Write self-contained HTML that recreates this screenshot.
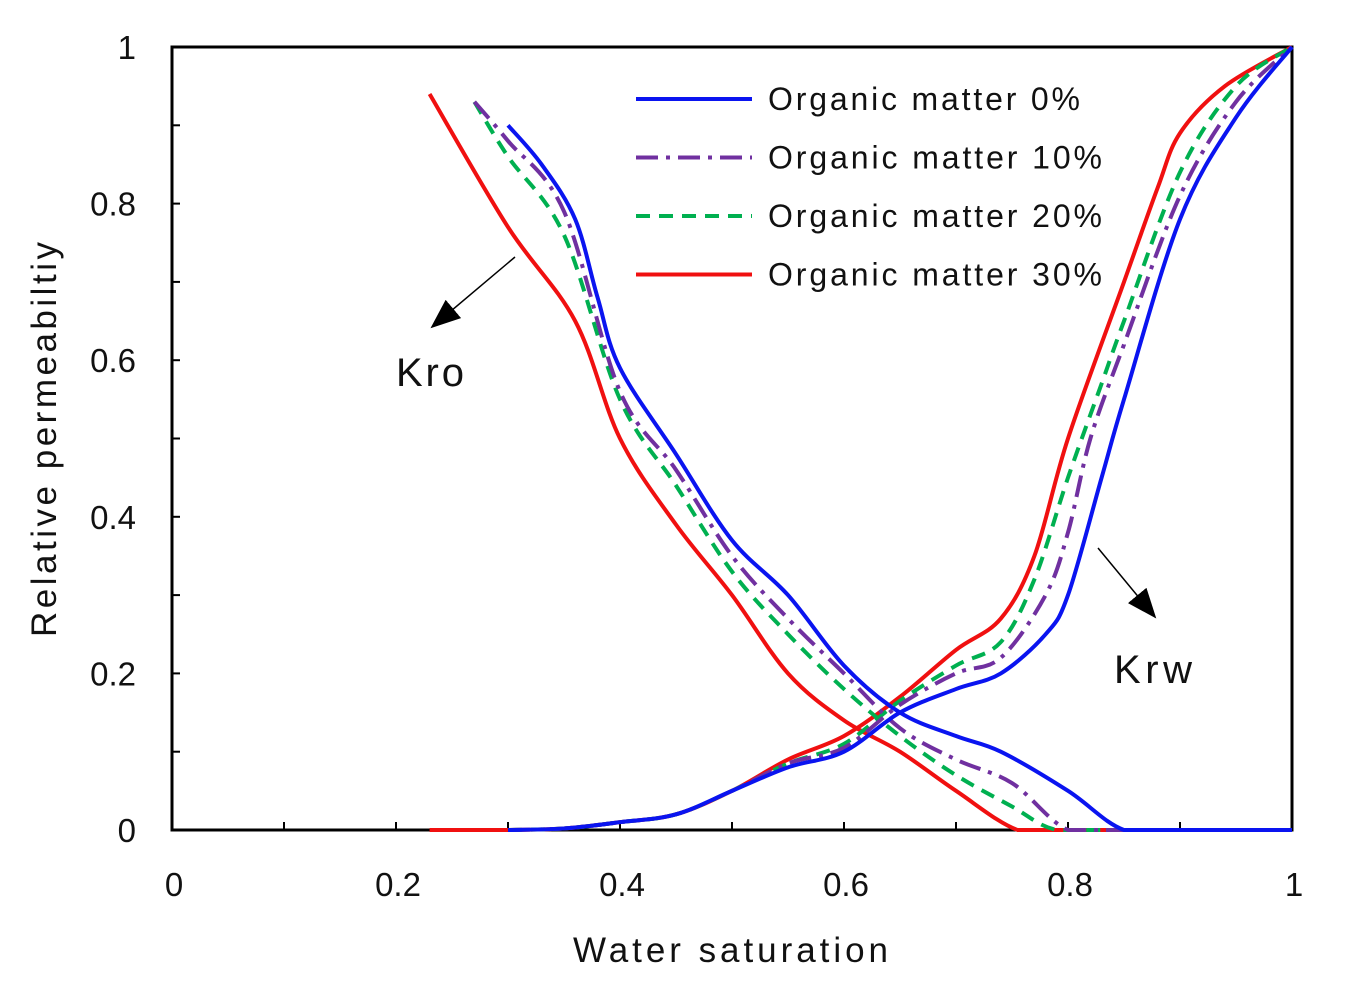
<!DOCTYPE html>
<html><head><meta charset="utf-8"><style>
body{margin:0;background:#fff}
svg text{font-family:"Liberation Sans",sans-serif;fill:#111}
</style></head><body>
<svg id="chart" width="1350" height="980"></svg>
<script>
const xTicks=[0,0.2,0.4,0.6,0.8,1];
const yTicks=[0,0.2,0.4,0.6,0.8,1];
const seriesNames=["Organic matter 0%","Organic matter 10%","Organic matter 20%","Organic matter 30%"];
const kroX0=[0.3,0.33,0.36,0.38,0.4,0.45,0.5,0.55,0.6,0.65,0.7,0.74,0.8,0.85,0.9,1];
const kroY0=[0.9,0.85,0.78,0.68,0.59,0.48,0.37,0.3,0.21,0.15,0.12,0.1,0.05,0,0,0];
const kroX1=[0.27,0.3,0.35,0.4,0.45,0.5,0.55,0.6,0.65,0.7,0.75,0.8,0.85,1];
const kroY1=[0.93,0.88,0.79,0.56,0.46,0.35,0.27,0.2,0.13,0.09,0.06,0,0,0];
const kroX2=[0.27,0.3,0.35,0.4,0.45,0.5,0.55,0.6,0.65,0.7,0.75,0.79,0.85,1];
const kroY2=[0.93,0.86,0.76,0.55,0.44,0.33,0.25,0.18,0.12,0.07,0.03,0,0,0];
const kroX3=[0.23,0.3,0.36,0.4,0.45,0.5,0.55,0.6,0.65,0.7,0.755,0.8,1];
const kroY3=[0.94,0.77,0.65,0.5,0.39,0.3,0.2,0.14,0.1,0.05,0,0,1e-9];
const krwX0=[0.3,0.35,0.4,0.45,0.5,0.55,0.6,0.65,0.7,0.74,0.78,0.8,0.83,0.85,0.9,0.95,1];
const krwY0=[0,0.002,0.01,0.02,0.05,0.08,0.1,0.15,0.18,0.2,0.25,0.3,0.45,0.55,0.78,0.91,1];
const krwX1=[0.3,0.35,0.4,0.45,0.5,0.55,0.6,0.65,0.7,0.74,0.78,0.8,0.82,0.85,0.9,0.95,1];
const krwY1=[0,0.002,0.01,0.02,0.05,0.085,0.105,0.16,0.2,0.22,0.3,0.38,0.5,0.62,0.81,0.93,1];
const krwX2=[0.3,0.35,0.4,0.45,0.5,0.55,0.6,0.65,0.7,0.74,0.77,0.8,0.83,0.85,0.9,0.95,1];
const krwY2=[0,0.002,0.01,0.02,0.05,0.085,0.11,0.165,0.21,0.24,0.32,0.45,0.57,0.65,0.84,0.95,1];
const krwX3=[0.23,0.3,0.35,0.4,0.45,0.5,0.55,0.6,0.65,0.7,0.74,0.77,0.8,0.85,0.88,0.9,0.94,1];
const krwY3=[0,0,0.002,0.01,0.02,0.05,0.09,0.12,0.17,0.23,0.27,0.35,0.5,0.7,0.82,0.89,0.95,1];

const L=172,R=1292,T=47,B=830;
const sx=v=>L+v*(R-L), sy=v=>B-v*(B-T);
const svg=document.getElementById('chart');
const NS="http://www.w3.org/2000/svg";
function mk(tag,attrs,parent){const e=document.createElementNS(NS,tag);for(const k in attrs)e.setAttribute(k,attrs[k]);(parent||svg).appendChild(e);return e;}
function pathD(xs,ys){const p=xs.map((x,i)=>[sx(x),sy(ys[i])]);let d=`M${p[0][0]},${p[0][1]}`;
for(let i=0;i<p.length-1;i++){const p0=p[i-1]||p[i],p1=p[i],p2=p[i+1],p3=p[i+2]||p2;
const c1=[p1[0]+(p2[0]-p0[0])/6,p1[1]+(p2[1]-p0[1])/6],c2=[p2[0]-(p3[0]-p1[0])/6,p2[1]-(p3[1]-p1[1])/6];
c1[1]=Math.min(c1[1],B);c2[1]=Math.min(c2[1],B);
d+=` C${c1[0]},${c1[1]} ${c2[0]},${c2[1]} ${p2[0]},${p2[1]}`;}return d;}
const styles=[{c:"#0a14f0",d:""},{c:"#7030a0",d:"22,8,4,8"},{c:"#00b050",d:"14,9"},{c:"#f01010",d:""}];
const kroX=[kroX0,kroX1,kroX2,kroX3],kroY=[kroY0,kroY1,kroY2,kroY3],krwX=[krwX0,krwX1,krwX2,krwX3],krwY=[krwY0,krwY1,krwY2,krwY3];
const frame=mk('rect',{x:L,y:T,width:R-L,height:B-T,fill:"none",stroke:"#000","stroke-width":3});

for(let i=0;i<=10;i++){const x=sx(i/10);const t=mk('line',{x1:x,x2:x,y1:B,y2:B-8,stroke:"#000","stroke-width":2});
}
for(let i=0;i<=10;i++){const y=sy(i/10);const t=mk('line',{x1:L,x2:L+8,y1:y,y2:y,stroke:"#000","stroke-width":2});
}
xTicks.forEach(v=>{const t=mk('text',{x:sx(v)+2,y:896,"text-anchor":"middle","font-size":33});t.textContent=String(v);
});
yTicks.forEach(v=>{const t=mk('text',{x:136,y:sy(v)+12,"text-anchor":"end","font-size":33});t.textContent=String(v);
});
let t=mk('text',{x:573,y:962,"font-size":35,textLength:315});t.textContent="Water saturation";

t=mk('text',{x:0,y:0,"font-size":35,textLength:395,transform:"translate(56,637) rotate(-90)"});t.textContent="Relative permeabiltiy";

for(let s=3;s>=0;s--){
 let p=mk('path',{d:pathD(kroX[s],kroY[s]),fill:"none",stroke:styles[s].c,"stroke-width":4,"stroke-dasharray":styles[s].d});
 
 p=mk('path',{d:pathD(krwX[s],krwY[s]),fill:"none",stroke:styles[s].c,"stroke-width":4,"stroke-dasharray":styles[s].d});
 
}
const legW=[312,334,334,334];
seriesNames.forEach((n,i)=>{const y=99+i*58.5;
 const l=mk('line',{x1:636,x2:752,y1:y,y2:y,stroke:styles[i].c,"stroke-width":4,"stroke-dasharray":styles[i].d});
 
 const tx=mk('text',{x:768,y:y+11,"font-size":32,textLength:legW[i]});tx.textContent=n;
 });
const defs=mk('defs',{});
const m2=mk('marker',{id:"ah2",markerWidth:30,markerHeight:24,refX:28,refY:12,orient:"auto",markerUnits:"userSpaceOnUse"},defs);
mk('path',{d:"M0,0 L30,12 L0,24 Z",fill:"#000"},m2);
let a=mk('line',{x1:515,y1:257,x2:432,y2:327,stroke:"#000","stroke-width":1.5,"marker-end":"url(#ah2)"});

a=mk('line',{x1:1098,y1:548,x2:1155,y2:617,stroke:"#000","stroke-width":1.5,"marker-end":"url(#ah2)"});

t=mk('text',{x:396,y:386,"font-size":40,textLength:68});t.textContent="Kro";
t=mk('text',{x:1114,y:683,"font-size":40,textLength:78});t.textContent="Krw";
</script>
</body></html>
